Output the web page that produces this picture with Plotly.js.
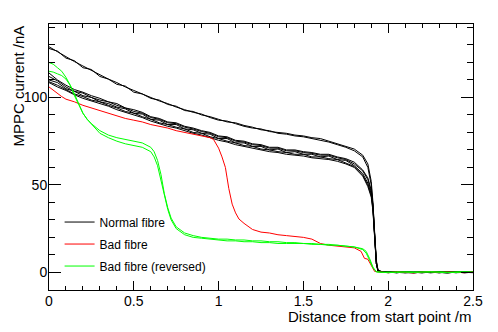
<!DOCTYPE html>
<html>
<head>
<meta charset="utf-8">
<script src="https://cdn.plot.ly/plotly-3.0.1.min.js"></script>
<style>html,body{margin:0;padding:0;background:#fff;}#chart{width:498px;height:332px;}</style>
</head>
<body>
<div id="chart"></div>
<script>
// Shared distance grid for the normal fibres (m)
const xNormal = [0,0.05,0.1,0.15,0.2,0.25,0.3,0.35,0.4,0.45,0.5,0.55,0.6,0.65,0.7,0.75,0.8,0.85,0.9,0.95,1.0,1.05,1.1,1.15,1.2,1.25,1.3,1.35,1.4,1.45,1.5,1.55,1.6,1.65,1.7,1.75,1.8,1.85,1.88,1.9,1.91,1.92,1.93,1.94,1.96,2.0,2.05,2.1,2.15,2.2,2.25,2.3,2.35,2.4,2.45,2.5];

// Normal fibre currents (nA)
const normal1 = [129,126,123.5,120.5,118,115.5,113,110.5,108.5,106,104,102,100,98,96.5,94.5,93,91.5,90.5,88.5,87,86.5,85,83.5,82.5,82,80.5,80,79.5,78.5,78,77,76.5,75,73.5,72,70.5,67,62,52,40,22,6,1,0.5,0.3,-0.2,0.4,0,-0.3,0.2,0.5,-0.1,0.3,0,0.2];
const normal2 = [128,126.5,122.5,121,117,116,112,110.5,107.5,106.5,103,102,99.5,98.5,96,95,92.5,92,90,89,87.5,86,85.5,84,83,81.5,81,79.5,79,78,77.5,76.5,75.5,74.5,73,71.5,69.5,66,60,50,37,20,5,0.8,0.4,-0.1,0.3,0.1,-0.4,0.2,0.4,-0.2,0.1,0.3,-0.3,0.1];
const normal3 = [114,110,107,104.5,103,101,99.5,97.5,96.5,94,93,91.5,89,88,86,85.5,83.5,82.5,81,80,78,77.5,75.5,75,73.5,73,71.5,71.5,70,70,69,68.5,67.5,67.5,66,65,63,58.5,54,47,39,23,7,1.2,0.4,0.2,-0.3,0.3,0.1,-0.2,0.4,0,-0.4,0.2,0.3,-0.1];
const normal4 = [112,109.5,106,103.5,102.5,100,98.5,97.5,95.5,94,92,91,88.5,87.5,85.5,85,83,82,80.5,79.5,77.5,77,75,74.5,73,72.5,71,71,69.5,69.5,68.5,68,67,67,65.5,64.5,62,58,53,46,38,21,5,0.8,0.3,-0.2,0.2,0.4,-0.1,0.3,-0.3,0.2,0.1,-0.2,0.4,0];
const normal5 = [110,108.5,105,103.5,101,100,97.5,96.5,94.5,93.5,91,90.5,87.5,87,84.5,84.5,82,81.5,79.5,79,76.5,76.5,74,74,72,72,70,70.5,68.5,69,67.5,67.5,66,66.5,64.5,64,61,56.5,51,45,37,21,6,1,0.4,0.3,0,-0.3,0.2,0.4,-0.1,0.1,0.3,-0.2,0,0.2];
const normal6 = [109,107,104.5,102,100.5,98.5,97.5,95.5,94,92,91,89,87.5,85.5,84.5,83,82,80,79.5,77.5,76.5,75,74,72.5,72,70.5,70,69,68.5,67.5,67.5,66,66,65,64.5,62.5,60.5,55.5,50,44,36,20,5,0.7,0.3,0.1,0.3,-0.2,0,0.4,0.2,-0.3,0.3,0.1,-0.1,0.2];
const normal7 = [108.5,106,104,101.5,99.5,98,96.5,95,93,91.5,90,88.5,86.5,85,83.5,82.5,81,79.5,78.5,77,75.5,74.5,73,72,71,70,69,68.5,67.5,67,66.5,65.5,65,64.5,63.5,62,60,55,49,43,35,19,5,0.6,0.2,-0.1,0.2,0.3,-0.2,0.1,0.3,0,-0.3,0.2,0.1,-0.2];

// Bad fibre
const xBad = [0,0.025,0.05,0.075,0.1,0.15,0.2,0.25,0.3,0.35,0.4,0.45,0.5,0.55,0.6,0.65,0.7,0.75,0.8,0.85,0.9,0.95,0.97,1.0,1.02,1.04,1.05,1.06,1.08,1.1,1.12,1.15,1.2,1.25,1.3,1.35,1.4,1.45,1.5,1.55,1.6,1.65,1.7,1.75,1.8,1.84,1.86,1.88,1.9,1.92,1.95,2.0,2.05,2.1,2.15,2.2,2.25,2.3,2.35,2.4,2.45,2.5];
const bad = [106,104,102.5,100.5,99,97.5,95.5,94,92.5,91,89.5,88,87,86,84.5,83.5,82.5,81,80,79,78,77,76,71,66,60,54,48,39,34,30.5,28,24.5,23,22.5,21.5,21,20.5,20,19,16.5,15.5,15,14.5,14,12,8,7.5,4,0.5,0.2,-0.2,0.3,0.1,-0.3,0.2,0.4,-0.1,0.2,0,-0.2,0.3];

// Bad fibre (reversed), two scans
const xRev = [0,0.025,0.05,0.075,0.1,0.125,0.15,0.175,0.2,0.225,0.25,0.3,0.35,0.4,0.45,0.5,0.55,0.6,0.62,0.64,0.66,0.68,0.7,0.72,0.75,0.8,0.85,0.9,0.95,1.0,1.05,1.1,1.15,1.2,1.25,1.3,1.35,1.4,1.45,1.5,1.55,1.6,1.65,1.7,1.75,1.8,1.85,1.87,1.89,1.91,1.93,1.96,2.0,2.05,2.1,2.15,2.2,2.25,2.3,2.35,2.4,2.45,2.5];
const rev1 = [120,119,117,115,111.5,107,101,95.5,91,87.5,85,81,78.5,77,76,75,74,71.5,69,64,56,45,37,31,26,22.5,21,20,19.5,19,19,18.5,18.5,18,18,17.5,17.5,17,17,16.5,16.5,16,16,15.5,15,14.5,13.5,12,8,3,0.3,0.1,-0.2,0.3,0.1,-0.1,0.2,0.4,0,-0.2,0.3,0.1,0.2];
const rev2 = [115,114.5,113.5,112.5,110.5,107,102,96.5,91,87.5,85,79.5,77,75,73.5,72.5,71.5,69,66,61,53,44,36,30,25,21.5,20,19.5,19,18.5,18,18,17.5,17.5,17,17,16.5,16.5,16.5,16.5,16,16,15.5,15.5,15,14.5,13,11,7,2.5,0.3,0,0.2,-0.1,0.3,0.2,-0.2,0.1,0.3,0.1,-0.1,0.2,0];

const seriesNames = ['Normal fibre', 'Bad fibre', 'Bad fibre (reversed)'];
const xTitle = 'Distance from start point /m';
const yTitle = 'MPPC current /nA';

const FONT = 'Liberation Sans, Arial, Helvetica, sans-serif';
const traces = [];
const normals = [normal1, normal2, normal3, normal4, normal5, normal6, normal7];
normals.forEach((y, i) => traces.push({
  x: xNormal, y: y, type: 'scatter', mode: 'lines',
  line: {color: '#000000', width: 1},
  name: seriesNames[0], legendgroup: 'n', showlegend: i === 0
}));
traces.push({x: xBad, y: bad, type: 'scatter', mode: 'lines',
  line: {color: '#ff0000', width: 1}, name: seriesNames[1], legendgroup: 'b'});
[rev1, rev2].forEach((y, i) => traces.push({
  x: xRev, y: y, type: 'scatter', mode: 'lines',
  line: {color: '#00ff00', width: 1},
  name: seriesNames[2], legendgroup: 'r', showlegend: i === 0
}));

const layout = {
  width: 498, height: 332,
  margin: {l: 49, r: 25, t: 24, b: 42},
  paper_bgcolor: '#ffffff', plot_bgcolor: '#ffffff',
  font: {family: FONT, color: '#000', size: 14},
  showlegend: true,
  legend: {x: 0.025, y: 0.31, xanchor: 'left', yanchor: 'top',
    bgcolor: 'rgba(0,0,0,0)', borderwidth: 0, font: {family: FONT, size: 12},
    traceorder: 'grouped', tracegroupgap: 3},
  xaxis: {range: [0, 2.5], dtick: 0.5, tick0: 0, ticks: 'inside', ticklen: 9,
    tickcolor: '#000', tickwidth: 1, showline: true, linecolor: '#000', linewidth: 1,
    mirror: 'ticks', showgrid: false, zeroline: false, ticklabelstandoff: -2,
    tickfont: {family: FONT, size: 14},
    minor: {dtick: 0.1, ticks: 'inside', ticklen: 4, tickcolor: '#000', showgrid: false}},
  yaxis: {range: [-10.1, 142], dtick: 50, tick0: 0, ticks: 'inside', ticklen: 12,
    tickcolor: '#000', tickwidth: 1, showline: true, linecolor: '#000', linewidth: 1,
    mirror: 'ticks', showgrid: false, zeroline: false, ticklabelstandoff: -2,
    tickfont: {family: FONT, size: 14},
    minor: {dtick: 10, ticks: 'inside', ticklen: 6, tickcolor: '#000', showgrid: false}},
  annotations: [
    {text: xTitle, xref: 'paper', yref: 'paper', x: 1, y: -0.1,
      xanchor: 'right', yanchor: 'middle', showarrow: false,
      font: {family: FONT, size: 15, color: '#000'}},
    {text: yTitle, xref: 'paper', yref: 'paper', x: -0.073, y: 1,
      xanchor: 'center', yanchor: 'top', textangle: -90, showarrow: false,
      font: {family: FONT, size: 15, color: '#000'}}
  ]
};

Plotly.newPlot('chart', traces, layout, {staticPlot: true, displayModeBar: false});
</script>
</body>
</html>
